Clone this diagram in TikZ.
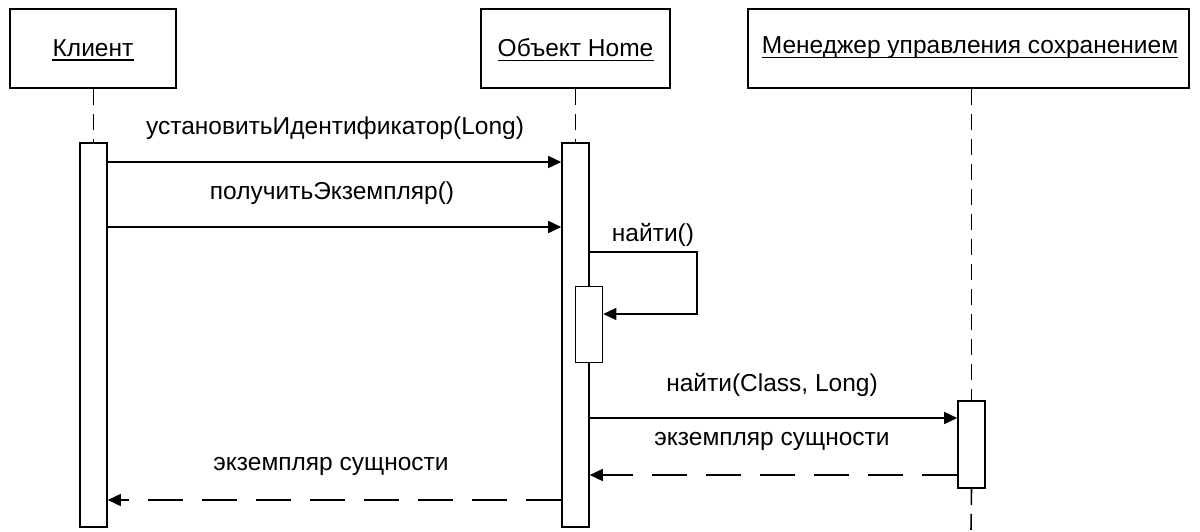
\documentclass[tikz,border=0pt]{standalone}
\usepackage{fontspec}
\setmainfont{Liberation Sans}
\usetikzlibrary{arrows.meta}
\begin{document}
\begin{tikzpicture}[x=1pt,y=-1pt,
  txt/.style={font=\fontsize{24.5}{29}\selectfont, inner sep=0pt},
  objbox/.style={draw, line width=1.6pt, minimum height=79pt, inner sep=0pt},
  actbar/.style={draw, fill=white, line width=1.6pt, minimum width=27pt, inner sep=0pt},
  life/.style={line width=1.6pt, dash pattern=on 16pt off 9pt},
  msg/.style={line width=1.6pt, -{Triangle[length=13pt,width=12pt]}},
  ret/.style={msg, dash pattern=on 35pt off 19pt},
  uline/.style={line width=1.4pt}]
\useasboundingbox (0,0) rectangle (1200,531);

% object boxes
\node[objbox, minimum width=166pt] (bK) at (93,48.5) {};
\node[objbox, minimum width=189pt] (bO) at (575.5,48.5) {};
\node[objbox, minimum width=441pt] (bM) at (968.5,48.5) {};

% object names, underlined
\node[txt] (tK) at (93,48) {Клиент};
\node[txt] (tO) at (575.5,48) {Объект Home};
\node[txt] (tM) at (970,48) {Менеджер управления сохранением};
\foreach \t in {tK,tO,tM}
  \draw[uline] ([yshift=-3.5pt]\t.base west) -- ([yshift=-3.5pt]\t.base east);

% activation bars
\node[actbar, minimum height=384pt] (aK) at (93.5,335) {};
\node[actbar, minimum height=384pt] (aO) at (575.5,335) {};
\node[actbar, minimum height=87pt] (aM) at (971.5,444.5) {};
\node[actbar, minimum height=76pt] (aN) at (589,324.5) {};

% lifelines
\coordinate (endM) at (971,531);
\draw[life] (bK.south -| aK) -- (aK.north);
\draw[life] (bO.south -| aO) -- (aO.north);
\draw[life] (bM.south -| aM) -- (aM.north);
\draw[life] (aM.south) -- (endM);

% messages
\draw[msg] (aK.east |- 0,162) -- (aO.west |- 0,162);
\node[txt] (m1) at (335,128) {установитьИдентификатор(Long)};

\draw[msg] (aK.east |- 0,227) -- (aO.west |- 0,227);
\node[txt] (m2) at (332,193) {получитьЭкземпляр()};

\coordinate (selfA) at (697,252);
\coordinate (selfB) at (697,314);
\draw[msg] (aO.east |- selfA) -- (selfA) -- (selfB) -- (aN.east |- selfB);
\node[txt] (m3) at (653,235) {найти()};

\draw[msg] (aO.east |- 0,418) -- (aM.west |- 0,418);
\node[txt] (m4) at (772,385) {найти(Class, Long)};

\draw[ret] (aM.west |- 0,475) -- (aO.east |- 0,475);
\node[txt] (m5) at (772,441) {экземпляр сущности};

\draw[ret] (aO.west |- 0,500) -- (aK.east |- 0,500);
\node[txt] (m6) at (331,466) {экземпляр сущности};
\end{tikzpicture}
\end{document}
